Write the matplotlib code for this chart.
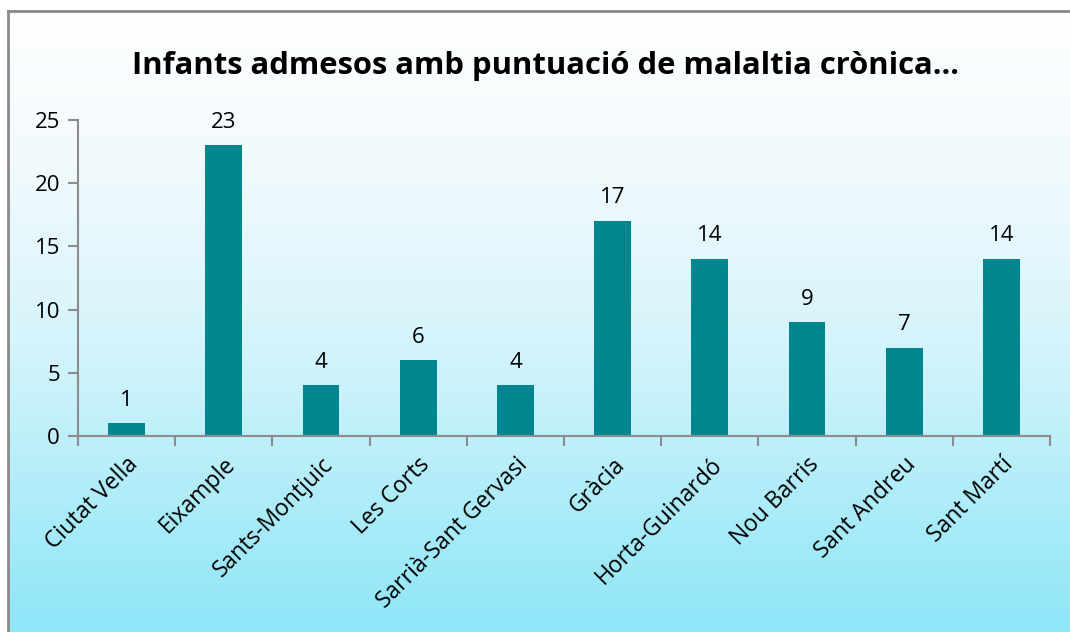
import numpy as np
import matplotlib
matplotlib.use("Agg")
import matplotlib.pyplot as plt
from matplotlib.colors import LinearSegmentedColormap

districts = ["Ciutat Vella", "Eixample", "Sants-Montjuic", "Les Corts",
             "Sarrià-Sant Gervasi", "Gràcia", "Horta-Guinardó", "Nou Barris",
             "Sant Andreu", "Sant Martí"]
counts = [1, 23, 4, 6, 4, 17, 14, 9, 7, 14]
yticks = [0, 5, 10, 15, 20, 25]

bar_color = "#00868F"
axis_color = "#8C8C8C"
plt.rcParams['font.family'] = ['Open Sans', 'DejaVu Sans']

fig = plt.figure(figsize=(10.7, 6.32), dpi=100)

# gradient background, white at top to light cyan at bottom
bg = fig.add_axes([0, 0, 1, 1], zorder=-10)
cmap = LinearSegmentedColormap.from_list(
    "bg", [(0.0, "#8EE6F7"), (0.45, "#D4F4FB"), (0.75, "#F2FAFD"), (1.0, "#FFFFFF")])
grad = np.linspace(0, 1, 256).reshape(-1, 1)
bg.imshow(grad, aspect="auto", cmap=cmap, origin="lower", extent=[0, 1, 0, 1])
bg.set_xlim(0, 1)
bg.set_ylim(0, 1)
bg.axis("off")
# frame lines (left and top), as in the cropped screenshot
bg.axvspan(0, 7 / 1070, color="white", zorder=2)
bg.axhspan(1 - 10 / 632, 1, color="white", zorder=2)
bg.plot([8 / 1070, 8 / 1070], [0, 1 - 11 / 632], color="#8A8A8A", lw=2, zorder=3)
bg.plot([8 / 1070, 1], [1 - 11 / 632, 1 - 11 / 632], color="#8A8A8A", lw=2, zorder=3)

ax = fig.add_axes([78 / 1070, 1 - 436 / 632, (1050 - 78) / 1070, (436 - 120) / 632])
ax.patch.set_alpha(0)
x = np.arange(len(districts))
bars = ax.bar(x, counts, width=0.38, color=bar_color, zorder=2)
for xi, v in zip(x, counts):
    ax.text(xi, v + 1.0, str(v), ha="center", va="bottom", fontsize=16, color="black")

ax.set_xlim(-0.5, len(districts) - 0.5)
ax.set_ylim(0, 25)
ax.set_yticks(yticks)
ax.tick_params(axis="y", length=7, width=1.5, color=axis_color, labelsize=16, pad=6)
ax.set_xticks(np.arange(len(districts) + 1) - 0.5)
ax.set_xticks(x, minor=True)
ax.set_xticklabels([])
ax.set_xticklabels(districts, minor=True, rotation=45, ha="right",
                   rotation_mode="anchor", fontsize=16.5)
ax.tick_params(axis="x", which="major", length=7, width=1.5, color=axis_color)
ax.tick_params(axis="x", which="minor", length=0, pad=12)
for s in ["top", "right"]:
    ax.spines[s].set_visible(False)
for s in ["left", "bottom"]:
    ax.spines[s].set_color(axis_color)
    ax.spines[s].set_linewidth(1.5)

fig.text(545 / 1070, 1 - 66 / 632, "Infants admesos amb puntuació de malaltia crònica...",
         ha="center", va="center", fontsize=22.3, fontweight="bold")

fig.savefig("out.png", dpi=100)
